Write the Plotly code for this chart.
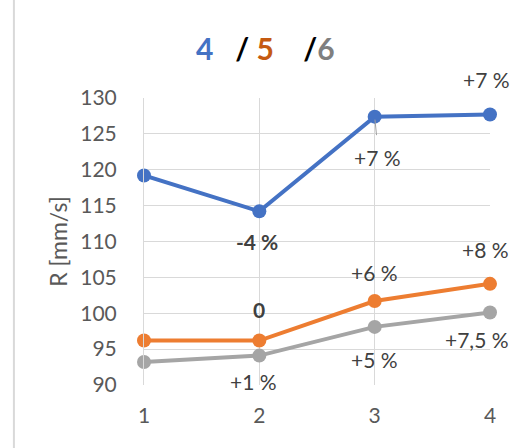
import plotly.graph_objects as go

x_vals = [1, 2, 3, 4]
r_4 = [119.2, 114.2, 127.4, 127.7]
r_5 = [96.2, 96.2, 101.7, 104.1]
r_6 = [93.2, 94.1, 98.1, 100.1]

labels_4 = ["", "<b>-4 %</b>", "+7 %", "+7 %"]
labels_5 = ["", "<b>0</b>", "+6 %", "+8 %"]
labels_6 = ["", "+1 %", "+5 %", "+7,5 %"]

blue = "#4472C4"
orange = "#ED7D31"
grey = "#A5A5A5"
txt = "#595959"
font = "Lato"

fig = go.Figure()
for ys, col in [(r_4, blue), (r_5, orange), (r_6, grey)]:
    fig.add_trace(go.Scatter(x=x_vals, y=ys, mode="lines+markers",
                             line=dict(color=col, width=4),
                             marker=dict(color=col, size=14),
                             showlegend=False, cliponaxis=False))

# label offsets (pixels) for each point
offs_4 = [(0, 0), (-2, -30), (3, -41), (-4, 35)]
offs_5 = [(0, 0), (0, 31), (0, 29), (-5, 34)]
offs_6 = [(0, 0), (-6, -26), (0, -33), (-13, -27)]

ann = []
for ys, labs, offs in [(r_4, labels_4, offs_4), (r_5, labels_5, offs_5), (r_6, labels_6, offs_6)]:
    for xv, yv, lab, (dx, dy) in zip(x_vals, ys, labs, offs):
        if lab:
            ann.append(dict(x=xv, y=yv, text=lab, showarrow=False, xshift=dx, yshift=dy,
                            font=dict(family=font, size=21, color="#404040")))

# leader line for the 3rd blue label
ann.append(dict(x=x_vals[2], y=r_4[2], ax=2, ay=20, text="", showarrow=True,
                arrowhead=0, arrowwidth=1, arrowcolor="#A0A0A0", standoff=3))

title = ("<b><span style='color:#4472C4'>4</span>   <span style='color:#000'>/</span> "
         "<span style='color:#C55A11'>5</span>    <span style='color:#000'>/</span>"
         "<span style='color:#7F7F7F'>6</span></b>")
ann.append(dict(xref="paper", yref="paper", x=0.35, y=1.0, yshift=70, text=title,
                showarrow=False, font=dict(family=font, size=30), xanchor="center"))

fig.update_layout(
    width=511, height=448,
    margin=dict(l=144, r=21, t=98, b=63),
    plot_bgcolor="white", paper_bgcolor="white",
    font=dict(family=font, size=21, color=txt),
    annotations=ann,
    shapes=[dict(type="line", xref="paper", yref="paper", x0=-0.376, x1=-0.376,
                 y0=-0.3, y1=1.4, line=dict(color="#D9D9D9", width=2))],
)
fig.update_xaxes(range=[1, 4], tickvals=x_vals, showgrid=True, gridcolor="#D9D9D9",
                 gridwidth=1, zeroline=False, showline=False, ticks="", ticklabelstandoff=16,
                 tickfont=dict(size=21, color=txt))
fig.update_yaxes(range=[90, 130], dtick=5, showgrid=True, gridcolor="#D9D9D9",
                 gridwidth=1, zeroline=False, showline=True, linecolor="#D9D9D9",
                 ticks="", ticklabelstandoff=22, tickfont=dict(size=21, color=txt),
                 title=dict(text="R [mm/s]", font=dict(size=23, color=txt), standoff=6))

fig.write_html("out.html", config={"displayModeBar": False},
               post_script="document.body.style.margin='0';")
